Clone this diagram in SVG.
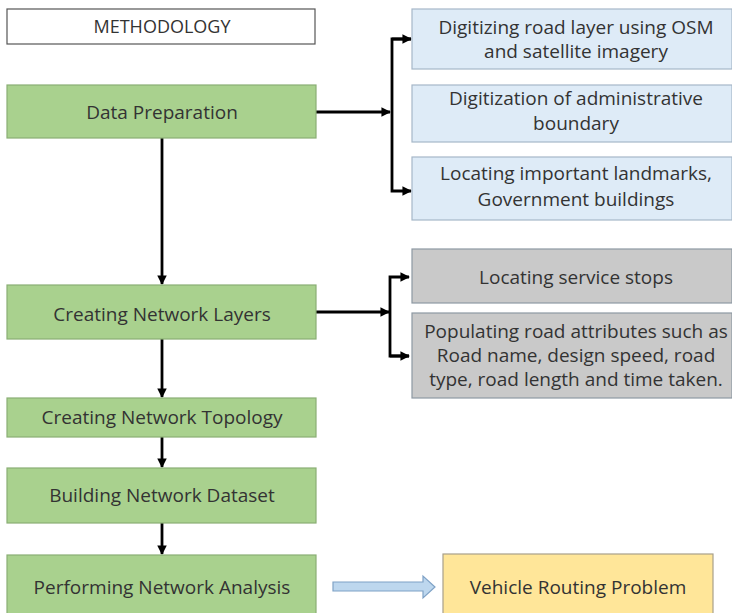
<svg xmlns="http://www.w3.org/2000/svg" width="732" height="613" viewBox="0 0 732 613">
<style>
text{font-family:"Open Sans","Noto Sans",sans-serif;font-size:19px;fill:#333;text-anchor:middle}
.g{fill:#A9D18E;stroke:#8AAE74;stroke-width:1.2}
.b{fill:#DEEBF7;stroke:#A6B7C8;stroke-width:1.2}
.gr{fill:#C9C9C9;stroke:#8E99A3;stroke-width:1.2}
.y{fill:#FFE699;stroke:#A8A08A;stroke-width:1.2}
.w{fill:#FFFFFF;stroke:#555;stroke-width:1.2}
.c{fill:none;stroke:#000;stroke-width:2.8}
</style>
<defs>
<marker id="ah" viewBox="0 0 10 10" refX="9" refY="5" markerWidth="3.4" markerHeight="3.4" orient="auto" markerUnits="strokeWidth">
<path d="M0,0 L10,5 L0,10 z" fill="#000"/>
</marker>
</defs>
<rect width="732" height="613" fill="#fff"/>
<g id="connectors">
<path class="c" d="M162,138 V284" marker-end="url(#ah)"/>
<path class="c" d="M162,339 V397" marker-end="url(#ah)"/>
<path class="c" d="M162,437 V467" marker-end="url(#ah)"/>
<path class="c" d="M162,523 V554" marker-end="url(#ah)"/>
<path class="c" d="M316,112 H390" marker-end="url(#ah)"/>
<path class="c" d="M411,39 H392 V191 H411" marker-end="url(#ah)"/>
<path class="c" d="M392,39 H411" marker-end="url(#ah)"/>
<path class="c" d="M316,312 H389" marker-end="url(#ah)"/>
<path class="c" d="M409,356 H390 V277 H409" marker-end="url(#ah)"/>
<path class="c" d="M390,356 H409" marker-end="url(#ah)"/>
<path d="M333,582 H423 V576 L435,587 L423,598 V591 H333 Z" fill="#BDD7EE" stroke="#7FA2C6" stroke-width="1.2"/>
</g>
<g id="methodology"><rect class="w" x="7" y="9" width="308" height="35"/><text x="162" y="33" style="font-size:18px">METHODOLOGY</text></g>
<g id="data-preparation"><rect class="g" x="7" y="85" width="309" height="53"/><text x="162" y="119">Data Preparation</text></g>
<g id="creating-network-layers"><rect class="g" x="7" y="285" width="309" height="54"/><text x="162" y="321">Creating Network Layers</text></g>
<g id="creating-network-topology"><rect class="g" x="7" y="398" width="309" height="39"/><text x="162" y="424">Creating Network Topology</text></g>
<g id="building-network-dataset"><rect class="g" x="7" y="468" width="309" height="55"/><text x="162" y="502">Building Network Dataset</text></g>
<g id="performing-network-analysis"><rect class="g" x="7" y="555" width="309" height="62"/><text x="162" y="594">Performing Network Analysis</text></g>
<g id="digitizing-road"><rect class="b" x="412" y="9" width="320" height="60"/><text x="576" y="34">Digitizing road layer using OSM</text><text x="576" y="58">and satellite imagery</text></g>
<g id="digitization-boundary"><rect class="b" x="412" y="85" width="320" height="57"/><text x="576" y="105">Digitization of administrative</text><text x="576" y="130">boundary</text></g>
<g id="locating-landmarks"><rect class="b" x="412" y="157" width="320" height="63"/><text x="576" y="180">Locating important landmarks,</text><text x="576" y="206">Government buildings</text></g>
<g id="locating-service-stops"><rect class="gr" x="412" y="249" width="320" height="54"/><text x="576" y="284">Locating service stops</text></g>
<g id="populating-attributes"><rect class="gr" x="412" y="313" width="320" height="85"/><text x="576" y="338">Populating road attributes such as</text><text x="576" y="362">Road name, design speed, road</text><text x="576" y="386">type, road length and time taken.</text></g>
<g id="vehicle-routing-problem"><rect class="y" x="443" y="554" width="270" height="63"/><text x="578" y="594">Vehicle Routing Problem</text></g>
</svg>
